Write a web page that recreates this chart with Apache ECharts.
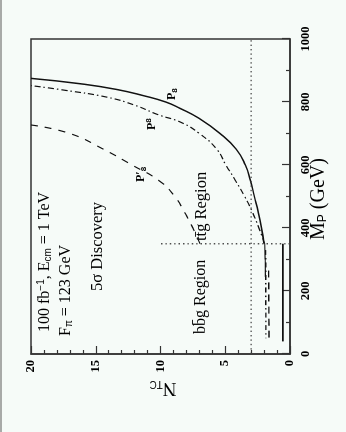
<!DOCTYPE html>
<html>
<head>
<meta charset="utf-8">
<script src="https://cdn.jsdelivr.net/npm/echarts@6/dist/echarts.min.js"></script>
<style>
  html, body { margin: 0; padding: 0; width: 346px; height: 432px; overflow: hidden; background: #f6fbf8; }
  #edge { position: absolute; left: 0; top: 0; width: 2px; height: 432px; background: #a8aaa8; }
  /* the figure is drawn upright and turned a quarter turn, like the scan */
  #chart { position: absolute; left: -43px; top: 43px; width: 432px; height: 346px; transform: rotate(-90deg); }
</style>
</head>
<body>
<div id="edge"></div>
<div id="chart"></div>
<script>
// M_P (GeV) vs N_TC needed for 5 sigma discovery
const massRange = [0, 1000];
const ntcRange = [0, 20];
const curveSolid = [[350, 2.0], [400, 2.2], [450, 2.45], [500, 2.75], [550, 3.05], [600, 3.45], [650, 4.15], [700, 5.4], [750, 7.1], [780, 8.5], [800, 9.6], [820, 11.3], [840, 13.4], [858, 16.2], [875, 20]];
const curveDashDot = [[350, 1.95], [400, 2.4], [450, 2.9], [500, 3.5], [550, 4.2], [600, 4.95], [650, 5.65], [700, 7.0], [735, 8.4], [760, 10.2], [790, 12.0], [815, 14.1], [838, 17.5], [852, 20]];
const curveDashed = [[350, 6.95], [400, 7.5], [450, 8.15], [500, 8.9], [550, 10.1], [600, 12.2], [650, 14.4], [700, 17.0], [727, 20]];
const bbgSolid = [[350, 1.95], [300, 1.92], [245, 1.9]];
const bbgDashDot = [[330, 1.88], [50, 1.86]];
const bbgDashed = [[265, 1.65], [50, 1.62]];
const bbgBar = [[40, 0.55], [350, 0.55]];
const discoveryLine = [[0, 3], [1000, 3]];
const thresholdLine = [[350, 0], [350, 10]];

const serif = '"Liberation Serif", "DejaVu Serif", serif';
const ink = '#111';

let myChart = echarts.init(document.getElementById('chart'));

function curve(data, type, width) {
    return {
        type: 'line',
        data: data,
        smooth: true,
        showSymbol: false,
        silent: true,
        lineStyle: { color: ink, width: width, type: type }
    };
}

function dotted(data) {
    return {
        type: 'line',
        data: data,
        showSymbol: false,
        silent: true,
        lineStyle: { color: '#444', width: 1.4, type: [1.4, 3] }
    };
}

// text placed in the upright frame: x along M_P, y down from the top
function note(x, y, text, size, rich) {
    return { type: 'text', x: x, y: y, style: { text: text, font: size + 'px ' + serif, fill: '#000', verticalAlign: 'middle', rich: rich || {} } };
}

let sub = function (fs, drop) { return { b: { fontSize: fs, padding: [drop, 0, 0, 0] } }; };

let option = {
    animation: false,
    grid: { left: 78, right: 39, top: 31, bottom: 56, show: true, borderColor: '#333', borderWidth: 1.5, backgroundColor: 'transparent' },
    xAxis: {
        type: 'value',
        min: massRange[0],
        max: massRange[1],
        interval: 200,
        axisLine: { lineStyle: { color: '#333', width: 1.5 } },
        axisTick: { inside: true, length: 8, lineStyle: { color: '#333', width: 1.2 } },
        minorTick: { show: true, splitNumber: 2, length: 4, lineStyle: { color: '#333', width: 1.2 } },
        splitLine: { show: false },
        axisLabel: { margin: 9, color: '#000', fontFamily: serif, fontSize: 12.5, fontWeight: 'bold', formatter: function (v) { return String(v); } }
    },
    yAxis: {
        type: 'value',
        min: ntcRange[0],
        max: ntcRange[1],
        interval: 5,
        axisLine: { show: true, lineStyle: { color: '#333', width: 1.5 } },
        axisTick: { show: true, inside: true, length: 8, lineStyle: { color: '#333', width: 1.2 } },
        minorTick: { show: true, splitNumber: 5, length: 4, lineStyle: { color: '#333', width: 1.2 } },
        splitLine: { show: false },
        axisLabel: { margin: 6, color: '#000', fontFamily: serif, fontSize: 12.5, fontWeight: 'bold' }
    },
    series: [
        curve(curveSolid, 'solid', 1.5),
        curve(curveDashDot, [6, 3, 1.5, 3], 1.2),
        curve(curveDashed, [7, 7], 1.2),
        curve(bbgSolid, 'solid', 1.2),
        curve(bbgDashDot, [5, 3, 1.5, 3], 1.4),
        curve(bbgDashed, [7, 5], 1.4),
        curve(bbgBar, 'solid', 1.6),
        dotted(discoveryLine),
        dotted(thresholdLine)
    ],
    graphic: [
        note(100, 45, '100 fb{s|−1}, E{b|cm} = 1 TeV', 16, { s: { fontSize: 10, padding: [0, 0, 7, 0] }, b: { fontSize: 10, padding: [7, 0, 0, 0] } }),
        note(96, 66, 'F{b|π} = 123 GeV', 16, sub(10, 7)),
        note(141, 98, '5σ Discovery', 16.5),
        note(98, 201, 'bb̄g Region', 16),
        note(191, 202, 'tt̄g Region', 16.5),
        note(332, 172, 'P{b|8}', 'bold 12', { b: { fontSize: 8, fontWeight: 'bold', padding: [5, 0, 0, 0] } }),
        note(302, 152, 'P{b|8}', 'bold 12', { b: { fontSize: 8, fontWeight: 'bold', padding: [0, 0, 6, 0] } }),
        note(250, 141, 'P′{b|8}', 'bold 12', { b: { fontSize: 8, fontWeight: 'bold', padding: [5, 0, 0, 0] } }),
        note(192, 319, 'M{b|P} (GeV)', 20, sub(12, 8)),
        // the N_TC title stands on its side like a usual y-axis name
        { type: 'text', x: 44, y: 163, rotation: Math.PI / 2,
          style: { text: 'N{b|TC}', font: '19px ' + serif, fill: '#000', align: 'center', verticalAlign: 'middle', rich: sub(10, 8) } }
    ]
};

myChart.setOption(option);
</script>
</body>
</html>
